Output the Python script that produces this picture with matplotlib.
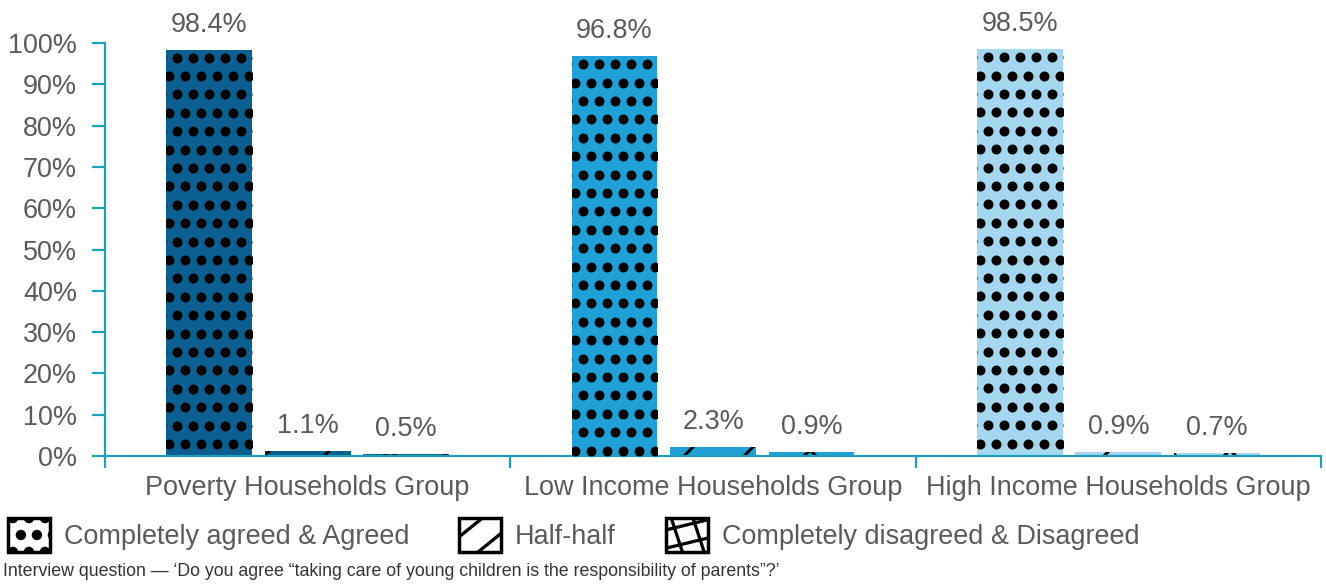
import matplotlib
matplotlib.use("Agg")
import matplotlib.pyplot as plt
import numpy as np
from matplotlib.patches import Patch, Rectangle, Circle
from matplotlib.lines import Line2D
from matplotlib.legend_handler import HandlerBase

# ---- data ----
groups = ["Poverty Households Group", "Low Income Households Group", "High Income Households Group"]
series = ["Completely agreed & Agreed", "Half-half", "Completely disagreed & Disagreed"]
agreed = [98.4, 96.8, 98.5]
half_half = [1.1, 2.3, 0.9]
disagreed = [0.5, 0.9, 0.7]
yticks = [0, 10, 20, 30, 40, 50, 60, 70, 80, 90, 100]
caption = "Interview question \u2014 \u2018Do you agree \u201ctaking care of young children is the responsibility of parents\u201d?\u2019"

# ---- style ----
DPI = 180
W, H = 1326, 585
group_colors = ["#0B5F91", "#1FA1D8", "#A6D7F0"]
axis_color = "#1EA0BA"
text_color = "#5A5A5A"
font = "Liberation Sans"
fs = 10.8

plt.rcParams["font.family"] = [font, "DejaVu Sans"]
plt.rcParams["hatch.linewidth"] = 1.2


def px(v):
    """pixels -> points"""
    return v * 72.0 / DPI


fig = plt.figure(figsize=(W / DPI, H / DPI), dpi=DPI)
ax_l, ax_r, ax_t, ax_b = 105, 1321, 43, 456
ax = fig.add_axes([ax_l / W, 1 - ax_b / H, (ax_r - ax_l) / W, (ax_b - ax_t) / H])

x = np.arange(len(groups))
bar_w = 0.212
step = 0.243
ax.set_xlim(-0.5, len(groups) - 0.5)
ax.set_ylim(0, 100)

px_per_x = (ax_r - ax_l) / len(groups)
px_per_y = (ax_b - ax_t) / 100.0

# dotted "agreed" bars
dot_dx = 16 / px_per_x
dot_dy = 18.4 / px_per_y
dot_size = px(10) ** 2
for i, v in enumerate(agreed):
    xc = x[i] - step
    bar = ax.bar(xc, v, bar_w, color=group_colors[i], linewidth=0)[0]
    left, right = xc - bar_w / 2, xc + bar_w / 2
    ys = np.arange(v - 8 / px_per_y, 0, -dot_dy)
    pts = []
    for r, yy in enumerate(ys):
        start = left + (11 if r % 2 == 0 else 3) / px_per_x
        xs = np.arange(start - dot_dx, right + dot_dx, dot_dx)
        pts += [(xx, yy) for xx in xs]
    pts = np.array(pts)
    sc = ax.scatter(pts[:, 0], pts[:, 1], s=dot_size, c="black", linewidths=0, zorder=3)
    sc.set_clip_path(bar)
    ax.annotate(f"{v}%", (xc, v), xytext=(0, px(12)), textcoords="offset points",
                ha="center", va="bottom", fontsize=fs, color=text_color)

# hatched small bars
for vals, off, hatch in [(half_half, 0, "/"), (disagreed, step, "x")]:
    for i, v in enumerate(vals):
        xc = x[i] + off
        ax.bar(xc, v, bar_w, color=group_colors[i], edgecolor="black", linewidth=0, hatch=hatch)
        ax.annotate(f"{v}%", (xc, v), xytext=(0, px(12)), textcoords="offset points",
                    ha="center", va="bottom", fontsize=fs, color=text_color)

# axes styling
for s in ["top", "right"]:
    ax.spines[s].set_visible(False)
for s in ["left", "bottom"]:
    ax.spines[s].set_color(axis_color)
    ax.spines[s].set_linewidth(px(2.2))

ax.set_yticks(yticks)
ax.set_yticklabels([f"{t}%" for t in yticks])
ax.tick_params(axis="y", length=px(13), width=px(2.2), color=axis_color,
               labelsize=fs, labelcolor=text_color, pad=px(15))
ax.set_xticks(x)
ax.set_xticklabels(groups)
ax.tick_params(axis="x", which="major", length=0, labelsize=fs, labelcolor=text_color, pad=px(19))
ax.set_xticks(np.arange(-0.5, len(groups)), minor=True)
ax.tick_params(axis="x", which="minor", length=px(12), width=px(2.2), color=axis_color)


# legend swatches
def _frame(xdescent, ydescent, width, height, trans, face):
    return Rectangle((-xdescent, -ydescent), width, height, facecolor=face,
                     edgecolor="black", linewidth=1.3, transform=trans)


class DottedHandler(HandlerBase):
    def create_artists(self, legend, orig_handle, xdescent, ydescent, width, height, fontsize, trans):
        rect = _frame(xdescent, ydescent, width, height, trans, "white")
        arts = [rect]
        sx = px(16)
        r = px(5.2)
        rows = [height, height / 2, 0]
        for k, yy in enumerate(rows):
            shift = 0 if k % 2 == 1 else sx / 2
            xx = -xdescent + width / 2 - sx / 2 - sx + shift
            while xx <= -xdescent + width + r:
                c = Circle((xx, yy - ydescent), r, facecolor="black", edgecolor="none", transform=trans)
                c.set_clip_path(rect)
                arts.append(c)
                xx += sx
        arts.append(_frame(xdescent, ydescent, width, height, trans, "none"))
        return arts


class LinesHandler(HandlerBase):
    def __init__(self, segments):
        super().__init__()
        self.segments = segments

    def create_artists(self, legend, orig_handle, xdescent, ydescent, width, height, fontsize, trans):
        rect = _frame(xdescent, ydescent, width, height, trans, "white")
        arts = [rect]
        for (x0, y0), (x1, y1) in self.segments:
            ln = Line2D([-xdescent + x0 * width, -xdescent + x1 * width],
                        [-ydescent + y0 * height, -ydescent + y1 * height],
                        color="black", linewidth=1.3, transform=trans)
            ln.set_clip_path(rect)
            arts.append(ln)
        arts.append(_frame(xdescent, ydescent, width, height, trans, "none"))
        return arts


half_segments = [((-0.05, 0.40), (0.60, 1.05)), ((0.40, -0.05), (1.05, 0.60))]
dis_segments = [((-0.1, 0.62), (1.1, 0.98)), ((-0.1, 0.08), (1.1, 0.44)),
                ((0.10, 1.1), (0.42, -0.1)), ((0.62, 1.1), (0.94, -0.1))]

h_dots = Patch(facecolor="white", edgecolor="black")
h_half = Patch(facecolor="white", edgecolor="black", hatch="/")
h_dis = Patch(facecolor="white", edgecolor="black", hatch="x")
fig.legend([h_dots, h_half, h_dis], series, loc="center left",
           bbox_to_anchor=(8 / W, 1 - 535 / H), ncol=3, frameon=False,
           fontsize=fs, handlelength=1.55, handleheight=1.55, handletextpad=0.52,
           columnspacing=1.85, borderpad=0, borderaxespad=0, labelcolor=text_color,
           handler_map={h_dots: DottedHandler(),
                        h_half: LinesHandler(half_segments),
                        h_dis: LinesHandler(dis_segments)})

fig.text(3 / W, 1 - 572 / H, caption, ha="left", va="center", fontsize=7.1, color="#333333")

fig.savefig("out.png", dpi=DPI)
